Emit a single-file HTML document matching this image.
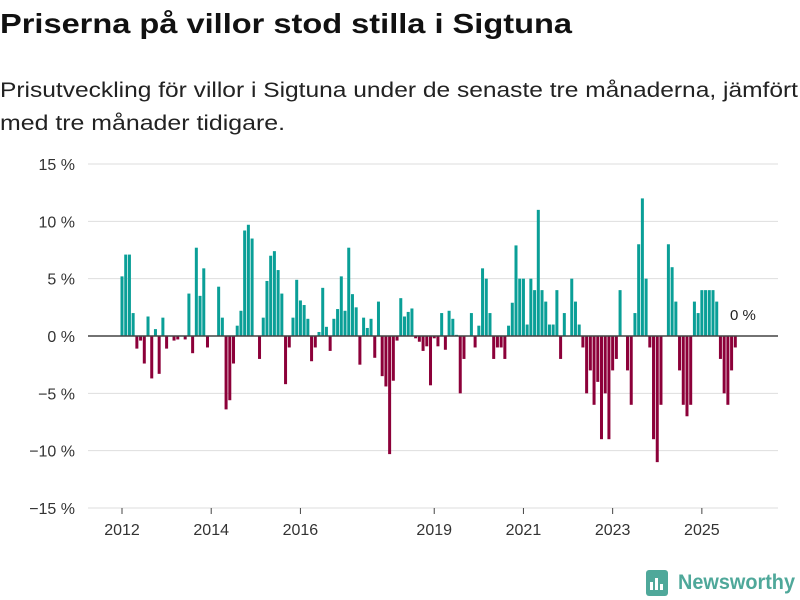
<!DOCTYPE html>
<html><head><meta charset="utf-8"><style>
body{margin:0;background:#fff;width:800px;height:600px;overflow:hidden;font-family:"Liberation Sans",sans-serif;}
svg{display:block}
</style></head><body>
<svg id="chart" width="800" height="600">
<text x="0" y="33" font-size="28" font-weight="bold" fill="#111" textLength="572" lengthAdjust="spacingAndGlyphs">Priserna på villor stod stilla i Sigtuna</text>
<text x="0" y="97" font-size="21" fill="#222" textLength="798" lengthAdjust="spacingAndGlyphs">Prisutveckling för villor i Sigtuna under de senaste tre månaderna, jämfört</text>
<text x="0" y="130" font-size="21" fill="#222" textLength="285" lengthAdjust="spacingAndGlyphs">med tre månader tidigare.</text>
<g id="grid"></g><g id="bars"></g><g id="axes"></g>
<g>
<rect x="646" y="570" width="22" height="26" rx="3" fill="#4fa89a"/>
<rect x="650" y="582" width="3" height="8" fill="#fff"/><rect x="655" y="578" width="3" height="12" fill="#fff"/><rect x="660" y="584" width="3" height="6" fill="#fff"/>
<text x="678" y="589" font-size="21" font-weight="bold" fill="#4fa89a" textLength="117" lengthAdjust="spacingAndGlyphs">Newsworthy</text>
</g>
</svg>
<script>
const years=["2012","2014","2016","2019","2021","2023","2025"];
const yearOffsets=[0,2,4,7,9,11,13];
const yTicks=[15,10,5,0,-5,-10,-15];
const values=[
5.2,7.1,7.1,2.0,-1.1,-0.4,-2.4,1.7,-3.7,0.6,-3.3,1.6,
-1.1,0,-0.4,-0.3,0,-0.3,3.7,-1.5,7.7,3.5,5.9,-1.0,
0,0,4.3,1.6,-6.4,-5.6,-2.4,0.9,2.2,9.2,9.7,8.5,
0,-2.0,1.6,4.8,7.0,7.4,5.75,3.7,-4.2,-1.0,1.6,4.9,
3.1,2.7,1.5,-2.2,-1.0,0.35,4.2,0.8,-1.3,1.5,2.35,5.2,
2.2,7.7,3.65,2.5,-2.5,1.6,0.7,1.5,-1.9,3.0,-3.5,-4.4,
-10.3,-3.9,-0.4,3.3,1.7,2.1,2.4,-0.2,-0.5,-1.3,-0.9,-4.3,
-0.2,-0.9,2.0,-1.2,2.2,1.5,0.1,-5.0,-2.0,0,2.0,-1.0,
0.9,5.9,5.0,2.0,-2.0,-1.0,-1.0,-2.0,0.9,2.9,7.9,5.0,
5.0,1.0,5.0,4.0,11.0,4.0,3.0,1.0,1.0,4.0,-2.0,2.0,
0,5.0,3.0,1.0,-1.0,-5.0,-3.0,-6.0,-4.0,-9.0,-5.0,-9.0,
-3.0,-2.0,4.0,0,-3.0,-6.0,2.0,8.0,12.0,5.0,-1.0,-9.0,
-11,-6,0,8,6,3,-3,-6,-7,-6,3,2,
4,4,4,4,3,-2,-5,-6,-3,-1,0];
const lastLabel="0 %";
const NS="http://www.w3.org/2000/svg";
function y(v){return 336 - v*11.467;}
function x(i){return 121 + i*3.717;}
const grid=document.getElementById('grid'),bars=document.getElementById('bars'),axes=document.getElementById('axes');
yTicks.forEach(t=>{
 if(t!==0){const l=document.createElementNS(NS,'line');
 l.setAttribute('x1',88);l.setAttribute('x2',778);l.setAttribute('y1',y(t));l.setAttribute('y2',y(t));
 l.setAttribute('stroke','#dedede');l.setAttribute('stroke-width',1);
 
 
 grid.appendChild(l);}
 const tx=document.createElementNS(NS,'text');
 tx.setAttribute('x',75);tx.setAttribute('y',y(t)+6);tx.setAttribute('text-anchor','end');
 tx.setAttribute('font-size',16);tx.setAttribute('fill','#333');
 tx.textContent=(t<0?'\u2212'+Math.abs(t):t)+' %';
 
 
 axes.appendChild(tx);
});
values.forEach((v,i)=>{
 const r=document.createElementNS(NS,'rect');
 r.setAttribute('x',x(i)-0.5);r.setAttribute('width',3);
 r.setAttribute('y',Math.min(y(v),336));r.setAttribute('height',Math.abs(y(v)-336));
 r.setAttribute('fill',v>=0?'#0a9f97':'#8c0039');
 
 
 bars.appendChild(r);
});
const z=document.createElementNS(NS,'line');
z.setAttribute('x1',88);z.setAttribute('x2',778);z.setAttribute('y1',336);z.setAttribute('y2',336);
z.setAttribute('stroke','#444');z.setAttribute('stroke-width',1.5);


axes.appendChild(z);
years.forEach((yr,k)=>{
 const px=x(yearOffsets[k]*12)+1;
 const tk=document.createElementNS(NS,'line');
 tk.setAttribute('x1',px);tk.setAttribute('x2',px);tk.setAttribute('y1',508);tk.setAttribute('y2',514);
 tk.setAttribute('stroke','#444');
 
 
 axes.appendChild(tk);
 const t=document.createElementNS(NS,'text');
 t.setAttribute('x',px);t.setAttribute('y',535);t.setAttribute('text-anchor','middle');
 t.setAttribute('font-size',16);t.setAttribute('fill','#333');t.textContent=yr;
 
 
 axes.appendChild(t);
});
const ll=document.createElementNS(NS,'text');
ll.setAttribute('x',x(values.length-1)-8);ll.setAttribute('y',320);
ll.setAttribute('font-size',15);ll.setAttribute('fill','#222');ll.textContent=lastLabel;


axes.appendChild(ll);
</script>
</body></html>
